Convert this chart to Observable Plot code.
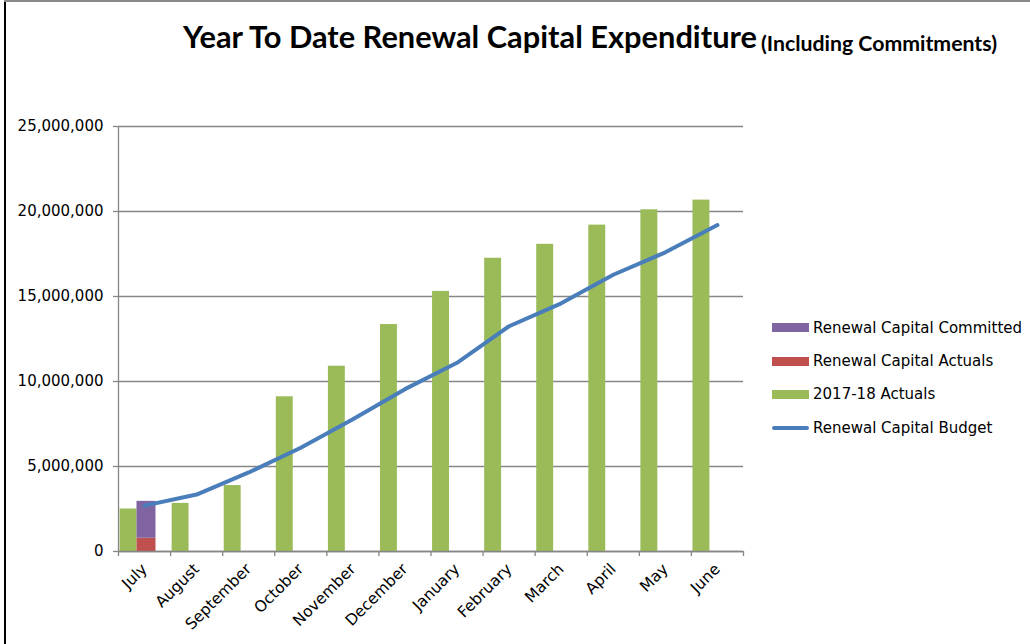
<!DOCTYPE html>
<html>
<head>
<meta charset="utf-8">
<script src="https://cdn.jsdelivr.net/npm/d3@7"></script>
<script src="https://cdn.jsdelivr.net/npm/@observablehq/plot@0.6"></script>
<style>
  html, body { margin: 0; padding: 0; background: #fff; }
  #wrap { position: relative; width: 1030px; height: 644px; overflow: hidden; font-family: "DejaVu Sans", sans-serif; }
  #frameL { position: absolute; left: 4px; top: 0; width: 2px; height: 644px; background: #000; }
  #frameT { position: absolute; left: 4px; top: 0; width: 1026px; height: 2px; background: #8a8a8a; }
  .ttl { position: absolute; white-space: nowrap; font-family: Lato, "Open Sans", sans-serif; font-weight: bold; color: #000; line-height: 1; transform-origin: 0 0; }
  #tmain { left: 183px; top: 21px; font-size: 31px; }
  #tsub { left: 761px; top: 33px; font-size: 20px; }
  #head { height: 70px; }
  #legend { position: absolute; left: 772px; top: 311px; font-size: 15px; color: #000; }
  .item { display: flex; align-items: center; height: 33.4px; }
  .sw { width: 37px; height: 9px; margin-right: 4px; }
  .ln { width: 37px; height: 4px; border-radius: 2px; margin-right: 4px; }
</style>
</head>
<body>
<div id="wrap">
  <div id="head"></div>
  <div id="chart"></div>
  <div id="tmain" class="ttl">Year To Date Renewal Capital Expenditure</div>
  <div id="tsub" class="ttl">(Including Commitments)</div>
  <div id="legend"></div>
  <div id="frameL"></div>
  <div id="frameT"></div>
</div>
<script>
const months = ["July","August","September","October","November","December","January","February","March","April","May","June"];
const actuals1718 = [2500000, 2830000, 3880000, 9100000, 10900000, 13350000, 15300000, 17250000, 18070000, 19200000, 20100000, 20670000];
const renewalActuals = [780000, 0, 0, 0, 0, 0, 0, 0, 0, 0, 0, 0];
const renewalCommitted = [2170000, 0, 0, 0, 0, 0, 0, 0, 0, 0, 0, 0];
const renewalBudget = [2700000, 3350000, 4650000, 6100000, 7780000, 9550000, 11100000, 13250000, 14600000, 16280000, 17600000, 19200000];
const yTicks = [0, 5000000, 10000000, 15000000, 20000000, 25000000];

const colors = {
  committed: "#8064A2",
  actuals: "#C0504D",
  prior: "#9BBB59",
  budget: "#4A7EBB"
};

const table = months.map((m, i) => ({
  i, month: m,
  prior: actuals1718[i],
  actual: renewalActuals[i],
  committed: renewalCommitted[i],
  budget: renewalBudget[i]
}));

const grey = "#868686";

const chart = Plot.plot({
  width: 1030,
  height: 574,
  marginTop: 56,
  marginBottom: 93,
  marginLeft: 118,
  marginRight: 287,
  style: { fontFamily: "DejaVu Sans, sans-serif", fontSize: "15px", color: "#000", background: "transparent", overflow: "visible" },
  x: { type: "linear", domain: [0, months.length] },
  y: { domain: [0, 25000000] },
  marks: [
    Plot.gridY(yTicks, { stroke: grey, strokeOpacity: 1, strokeWidth: 1.3 }),
    Plot.ruleX([0], { stroke: grey, strokeWidth: 1.3 }),
    Plot.axisY(yTicks, { tickFormat: d3.format(","), tickSize: 5, tickPadding: 10, stroke: grey, strokeWidth: 1.3, fontSize: 15 }),
    Plot.axisX(d3.range(months.length + 1), { tickFormat: () => "", tickSize: 5, stroke: grey, strokeWidth: 1.3 }),
    Plot.axisX(table.map(d => d.i + 0.5), { tickFormat: (d) => months[Math.floor(d)], tickSize: 0, tickPadding: 15, tickRotate: -45, fontSize: 15.5 }),
    Plot.rectY(table, { x1: d => d.i + 0.03, x2: d => d.i + 0.355, y1: 0, y2: "prior", fill: colors.prior }),
    Plot.rectY(table.filter(d => d.actual > 0), { x1: d => d.i + 0.355, x2: d => d.i + 0.72, y1: 0, y2: "actual", fill: colors.actuals }),
    Plot.rectY(table.filter(d => d.committed > 0), { x1: d => d.i + 0.355, x2: d => d.i + 0.72, y1: "actual", y2: d => d.actual + d.committed, fill: colors.committed }),
    Plot.ruleY([0], { stroke: grey, strokeWidth: 1.3 }),
    Plot.line(table, { x: d => d.i + 0.5, y: "budget", stroke: colors.budget, strokeWidth: 4, strokeLinecap: "round", strokeLinejoin: "round" })
  ]
});
document.getElementById("chart").appendChild(chart);

// fit title pieces to the reference widths
function fitWidth(id, target) {
  const el = document.getElementById(id);
  const w = el.getBoundingClientRect().width;
  if (w > 0) el.style.transform = `scaleX(${target / w})`;
}
fitWidth("tmain", 574);
fitWidth("tsub", 236);

const legendItems = [
  { label: "Renewal Capital Committed", color: colors.committed, type: "rect" },
  { label: "Renewal Capital Actuals", color: colors.actuals, type: "rect" },
  { label: "2017-18 Actuals", color: colors.prior, type: "rect" },
  { label: "Renewal Capital Budget", color: colors.budget, type: "line" }
];
const legend = document.getElementById("legend");
for (const it of legendItems) {
  const row = document.createElement("div");
  row.className = "item";
  const sw = document.createElement("span");
  sw.className = it.type === "line" ? "ln" : "sw";
  sw.style.background = it.color;
  const tx = document.createElement("span");
  tx.textContent = it.label;
  row.appendChild(sw);
  row.appendChild(tx);
  legend.appendChild(row);
}
</script>
</body>
</html>
